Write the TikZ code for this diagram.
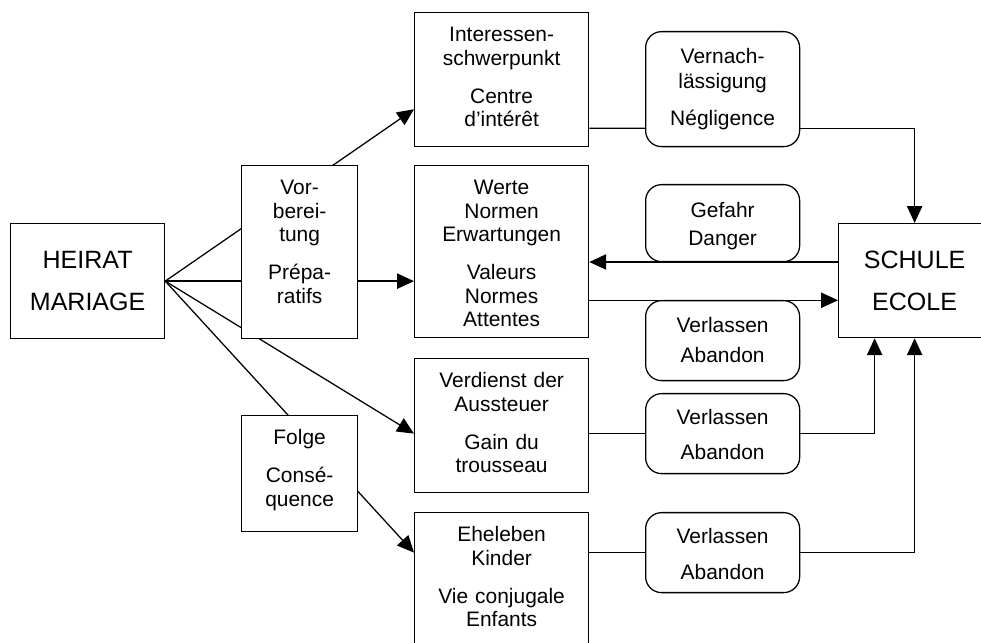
\documentclass[tikz,border=0pt]{standalone}
\usepackage{fontspec}
\setmainfont{Liberation Sans}
\usetikzlibrary{arrows.meta, backgrounds}

\begin{document}
\begin{tikzpicture}[
    box/.style={rectangle, draw, fill=white, line width=0.9pt, inner sep=0pt,
                anchor=north west, align=center, text height=0.725cm,
                font=\fontsize{14.9}{16.7}\selectfont},
    rbox/.style={box, rounded corners=0.4cm, text width=3.85cm, text height=0.8cm},
    big/.style={box, text width=3.85cm, text height=1.125cm,
                font=\fontsize{17.8}{29.9}\selectfont},
    arr/.style={-{Triangle[length=0.42cm, width=0.38cm]}, line width=0.9pt},
    link/.style={line width=0.9pt}
  ]
    \clip (0, 0) rectangle (24.525, 16.075);

    %% left column
    \node[big, text depth=1.75cm] (heirat) at (0.25, 10.5) {HEIRAT\\MARIAGE};
    \node[box, text width=2.9cm, text depth=3.6cm] (vorb) at (6.025, 11.95)
        {Vor-\\berei-\\tung\\[10.3pt]Prépa-\\ratifs};
    \node[box, text width=2.9cm, text depth=2.175cm] (folge) at (6.025, 5.7)
        {Folge\\[10.3pt]Consé-\\quence};

    %% middle column
    \node[box, text width=4.35cm, text depth=2.625cm] (inter) at (10.35, 15.775)
        {Interessen-\\schwerpunkt\\[10.3pt]Centre\\d’intérêt};
    \node[box, text width=4.35cm, text depth=3.575cm] (werte) at (10.35, 11.95)
        {Werte\\Normen\\Erwartungen\\[10.3pt]Valeurs\\Normes\\Attentes};
    \node[box, text width=4.35cm, text depth=2.625cm] (verd) at (10.35, 7.125)
        {Verdienst der\\Aussteuer\\[10.3pt]Gain du\\trousseau};
    \node[box, text width=4.35cm, text depth=2.625cm] (ehe) at (10.35, 3.275)
        {Eheleben\\Kinder\\[10.3pt]Vie conjugale\\Enfants};

    %% right column
    \node[rbox, text depth=2.075cm] (vern) at (16.125, 15.3)
        {Vernach-\\[1pt]lässigung\\[9.6pt]Négligence};
    \node[rbox, text height=0.825cm, text depth=1.1cm] (gef) at (16.125, 11.475)
        {Gefahr\\[3.2pt]Danger};
    \node[rbox, text depth=1.2cm] (verl1) at (16.125, 8.575)
        {Verlassen\\[4.6pt]Abandon};
    \node[rbox, text height=0.775cm, text depth=1.225cm] (verl2) at (16.125, 6.25)
        {Verlassen\\[8.2pt]Abandon};
    \node[rbox, text height=0.775cm, text depth=1.225cm] (verl3) at (16.125, 3.275)
        {Verlassen\\[8.9pt]Abandon};
    \node[big, text width=3.8cm, text depth=1.725cm] (schule) at (20.95, 10.5)
        {SCHULE\\ECOLE};

    %% out of HEIRAT (behind the small boxes)
    \begin{scope}[on background layer]
      \draw[arr] (heirat.east) -- ([yshift=0.95cm]inter.south west);
      \draw[arr] (heirat.east) -- (heirat.east -| werte.west);
      \draw[arr] (heirat.east) -- (verd.west |- verl2.west);
      \draw[arr] (heirat.east) -- (ehe.west |- verl3.west);
    \end{scope}

    %% into SCHULE
    \draw[link] ([yshift=0.475cm]inter.south east) -- ([yshift=0.475cm]vern.south west);
    \draw[arr] ([yshift=0.475cm]vern.south east) -| (schule.north);
    \coordinate (back) at ([yshift=-0.975cm]schule.north west);
    \coordinate (forth) at ([yshift=0.95cm]schule.south west);
    \draw[arr] (back) -- (back -| werte.east);
    \draw[arr] (werte.east |- forth) -- (forth);
    \draw[link] (verd.east |- verl2.west) -- (verl2.west);
    \draw[arr] (verl2.east) -| ([xshift=-1cm]schule.south);
    \draw[link] (ehe.east |- verl3.west) -- (verl3.west);
    \draw[arr] (verl3.east) -| (schule.south);
\end{tikzpicture}
\end{document}
